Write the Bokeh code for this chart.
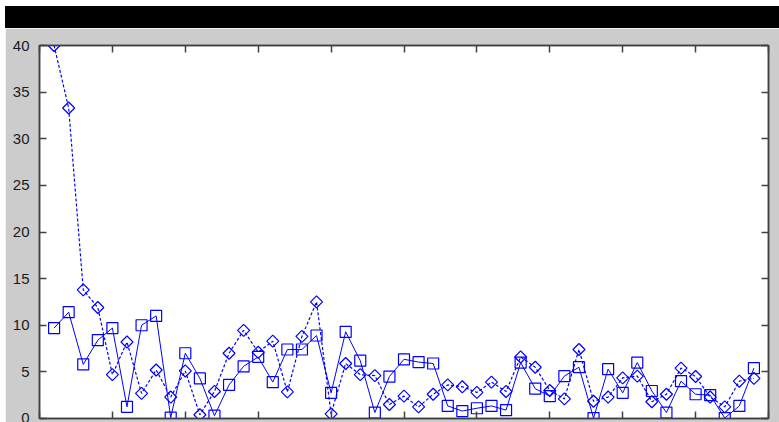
import math
from bokeh.plotting import figure
from bokeh.models import (Range1d, LinearAxis, Div, SingleIntervalTicker,
                          ColumnDataSource, CustomJSTickFormatter)
from bokeh.layouts import column
from bokeh.embed import file_html
from bokeh.resources import INLINE

# ---- data ----
x_index = list(range(1, 50))
solid_series = [9.7, 11.4, 5.8, 8.4, 9.7, 1.25, 10.0, 11.0, 0.1, 7.0,
                4.3, 0.3, 3.6, 5.6, 6.6, 3.9, 7.4, 7.4, 8.9, 2.75,
                9.3, 6.2, 0.64, 4.5, 6.35, 6.05, 5.9, 1.35, 0.8, 1.1,
                1.35, 0.9, 6.0, 3.2, 2.4, 4.55, 5.5, 0.05, 5.3, 2.75,
                6.0, 2.95, 0.64, 4.0, 2.6, 2.5, 0.05, 1.35, 5.4]
dashed_series = [40, 33.3, 13.8, 11.9, 4.7, 8.2, 2.7, 5.2, 2.3, 5.1,
                 0.4, 2.9, 7.0, 9.45, 7.1, 8.3, 2.85, 8.8, 12.5, 0.5,
                 5.9, 4.7, 4.6, 1.5, 2.4, 1.25, 2.6, 3.6, 3.4, 2.8,
                 3.9, 2.9, 6.6, 5.5, 3.0, 2.1, 7.4, 1.85, 2.3, 4.35,
                 4.55, 1.8, 2.6, 5.4, 4.5, 2.3, 1.25, 4.0, 4.3]
x_limits = (0, 50)
y_limits = (0, 40)
x_tick_step = 5
y_tick_step = 5

src = ColumnDataSource(dict(x=x_index, a=solid_series, b=dashed_series))

GRAY = "#cccccc"
AXIS = "#404040"
BLUE = "#0000ff"

p = figure(width=774, height=394, output_backend="svg", toolbar_location=None,
           x_range=Range1d(*x_limits), y_range=Range1d(*y_limits),
           x_axis_location="below", y_axis_location="left",
           min_border_left=34, min_border_right=11, min_border_top=17, min_border_bottom=2,
           margin=(0, 0, 0, 5))
p.background_fill_color = "white"
p.border_fill_color = GRAY
p.outline_line_color = AXIS
p.outline_line_width = 1.5
p.xgrid.visible = False
p.ygrid.visible = False

top_ax = LinearAxis()
right_ax = LinearAxis()
p.add_layout(top_ax, "above")
p.add_layout(right_ax, "right")

blank = CustomJSTickFormatter(code="return '';")
for ax in p.xaxis:
    ax.ticker = SingleIntervalTicker(interval=x_tick_step)
    ax.formatter = blank
    ax.major_label_standoff = 0
for ax in p.yaxis:
    ax.ticker = SingleIntervalTicker(interval=y_tick_step)
for ax in list(p.xaxis) + list(p.yaxis):
    ax.axis_line_color = AXIS
    ax.axis_line_width = 1.5
    ax.major_tick_line_color = AXIS
    ax.major_tick_line_width = 1.5
    ax.major_tick_in = 7
    ax.major_tick_out = 0
    ax.minor_tick_line_color = None
right_ax.formatter = blank
right_ax.major_label_standoff = 0

left_ax = [a for a in p.yaxis if a is not right_ax][0]
left_ax.major_label_text_font = "Liberation Sans"
left_ax.major_label_text_font_size = "15px"
left_ax.major_label_text_color = "#1a1a1a"
left_ax.major_label_standoff = 6

# solid line with squares
p.line("x", "a", source=src, line_color=BLUE, line_width=1)
p.scatter("x", "a", source=src, marker="square", size=11, fill_color=None,
          line_color=BLUE, line_width=1.2)
# dashed line with diamonds
p.line("x", "b", source=src, line_color=BLUE, line_width=1.2, line_dash="3 2")
p.scatter("x", "b", source=src, marker="square", angle=math.pi / 4, size=8.5,
          fill_color=None, line_color=BLUE, line_width=1.2)

bar = Div(width=774, height=22, margin=(6, 0, 0, 5), styles={"background-color": "black"})
layout = column(bar, p, spacing=0)

open("out.html", "w").write(file_html(layout, INLINE))
